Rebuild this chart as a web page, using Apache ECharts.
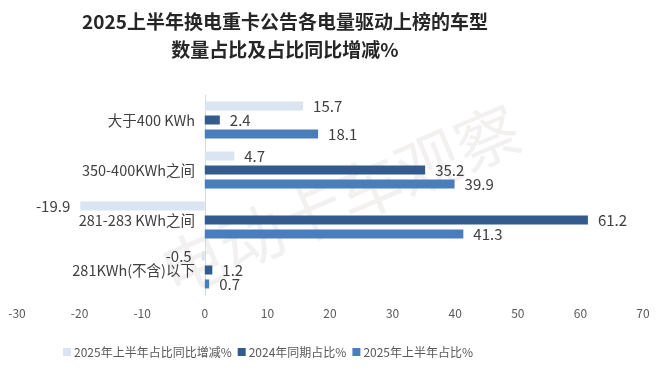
<!DOCTYPE html>
<html><head><meta charset="utf-8">
<script src="https://cdn.jsdelivr.net/npm/echarts@6/dist/echarts.min.js"></script>
<style>html,body{margin:0;padding:0;background:#fff}#c{width:660px;height:377px}</style>
</head><body><div id="c"></div>
<script>
const titleText = '2025上半年换电重卡公告各电量驱动上榜的车型\n数量占比及占比同比增减%';
const categories = ['大于400 KWh', '350-400KWh之间', '281-283 KWh之间', '281KWh(不含)以下'];
const seriesNames = ['2025年上半年占比同比增减%', '2024年同期占比%', '2025年上半年占比%'];
const yoyChange = [15.7, 4.7, -19.9, -0.5];
const share2024 = [2.4, 35.2, 61.2, 1.2];
const share2025 = [18.1, 39.9, 41.3, 0.7];
const xTicks = { min: -30, max: 70, interval: 10 };
const colors = ['#dbe5f1', '#335b8e', '#4a7ebb'];

function toData(arr) {
  return arr.map(v => ({ value: v, label: { position: v < 0 ? 'left' : 'right' } }));
}
const chart = echarts.init(document.getElementById('c'));
const font = '"Noto Sans CJK SC", "Noto Sans", sans-serif';
chart.setOption({
  animation: false,
  textStyle: { fontFamily: font },
  title: {
    text: titleText, left: 280, top: 3, textAlign: 'center',
    textStyle: { fontFamily: font, fontSize: 19, fontWeight: 'bold', color: '#262626', lineHeight: 28, align: 'center' }
  },
  graphic: [{
    type: 'text', x: 340, y: 200, rotation: 23 * Math.PI / 180, silent: true, z: 0,
    style: { text: '电动卡车观察', font: '64px "Noto Sans CJK SC"', fill: 'rgba(190,170,170,0.18)', textAlign: 'center', textVerticalAlign: 'middle' }
  }],
  legend: {
    bottom: 14, left: 58, itemWidth: 8, itemHeight: 8, itemGap: 6,
    icon: 'rect',
    textStyle: { fontSize: 12, color: '#595959', padding: [0, 0, 0, -2] },
    data: seriesNames
  },
  grid: { left: 17, right: 17, top: 95, bottom: 82, containLabel: false, outerBoundsMode: 'none' },
  xAxis: {
    type: 'value', min: xTicks.min, max: xTicks.max, interval: xTicks.interval,
    axisLine: { show: false }, axisTick: { show: false }, splitLine: { show: false },
    axisLabel: { color: '#595959', fontSize: 12, margin: 12 }
  },
  yAxis: {
    type: 'category', inverse: true, data: categories,
    axisLine: { onZero: true, lineStyle: { color: '#d9d9d9' } },
    axisTick: { show: false },
    axisLabel: { color: '#404040', fontSize: 14.5, margin: -178 }
  },
  series: [yoyChange, share2024, share2025].map((arr, i) => ({
    name: seriesNames[i], type: 'bar', barWidth: 9, barGap: '55%',
    itemStyle: { color: colors[i] },
    label: { show: true, color: '#404040', fontSize: 15, distance: 10 },
    data: toData(arr), z: 2
  }))
});
</script></body></html>
